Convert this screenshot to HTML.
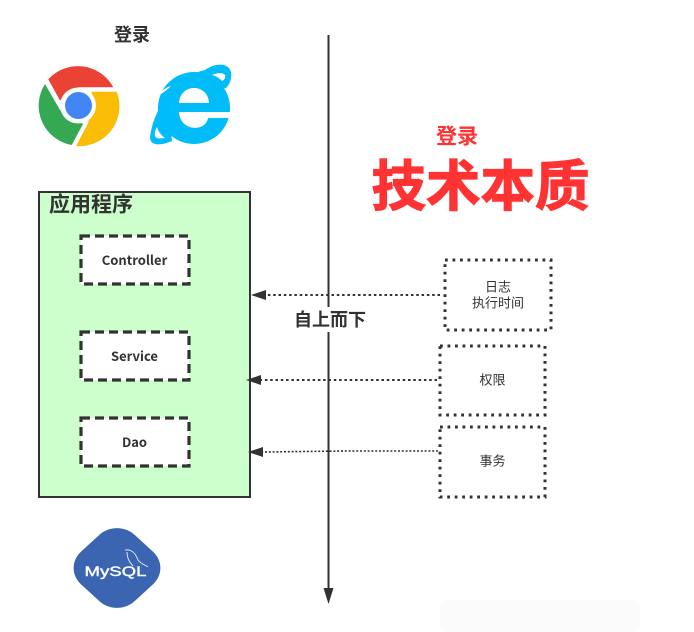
<!DOCTYPE html>
<html><head><meta charset="utf-8"><style>
html,body{margin:0;padding:0;background:#fff;width:694px;height:632px;overflow:hidden}
svg{display:block}
text{font-family:"Liberation Sans","Noto Sans CJK SC",sans-serif;text-anchor:middle;dominant-baseline:central;fill:#323232}
</style></head><body>
<svg width="694" height="632" viewBox="0 0 694 632">
<rect x="440" y="600" width="200" height="32" rx="6" fill="#fbfbfb"/>
<text x="132" y="35" font-size="18" font-weight="700">登录</text>
<!-- chrome -->
<path d="M48.300 79.300A40 40 0 0 1 113.300 87.300L78 87.300L60 100.500Z" fill="#ea4335"/>
<path d="M116.700 91.700A40 40 0 0 1 76 146L88 123.500L92 105L91.700 91.700Z" fill="#fbbc05"/>
<path d="M45 84A40 40 0 0 0 71.700 145L83 124L60 110Z" fill="#34a853"/>
<circle cx="78" cy="105.500" r="18" fill="#fff"/>
<circle cx="78.500" cy="105.500" r="13.500" fill="#4285f4"/>
<!-- IE -->
<g fill="#00bcf9">
<circle cx="194" cy="108" r="36"/>
<path d="M150 137C152 120 160 105 170 92C180 80 195 72 205 70C215 63 228 62 231 72C232 78 230 84 226 88L205 90L170 125L172 141C160 146 150 146 150 137Z"/>
</g>
<g fill="#fff">
<path d="M179 103C180 83 208 83 209 103Z"/>
<path d="M179 112H231V118H208C206 132 180 132 179 112Z"/>
<path d="M159 95C162 90 167 87 171 86C167 90 163 93 159 95Z"/>
<path d="M212 75C216 73 223 72 225 75C226 78 224 80 222 81C219 78 216 76 212 75Z"/>
<path d="M157 127C154 132 154 137 157 138C160 139 163 138 165 138C161 135 158 131 157 127Z"/>
</g>
<!-- red title -->
<text x="457" y="137" font-size="21" font-weight="700" style="fill:#ff3333">登录</text>
<text x="480.500" y="187" font-size="54.500" font-weight="700" stroke="#ff3333" stroke-width="1.200" style="fill:#ff3333">技术本质</text>
<!-- app box -->
<rect x="39" y="192" width="211" height="305" fill="#ccffcc" stroke="#323232" stroke-width="2"/>
<text x="91" y="205" font-size="21" font-weight="700">应用程序</text>
<g fill="#fff" stroke="#323232" stroke-width="3.200" stroke-dasharray="9 5">
<rect x="81" y="236" width="108" height="48"/>
<rect x="81" y="332" width="108" height="48"/>
<rect x="81" y="418" width="108" height="48"/>
</g>
<g font-size="13" font-weight="700">
<text x="134.500" y="259.500" style="font-family:'Noto Sans CJK SC',sans-serif">Controller</text>
<text x="134.500" y="355.500" style="font-family:'Noto Sans CJK SC',sans-serif">Service</text>
<text x="134.500" y="441.500" style="font-family:'Noto Sans CJK SC',sans-serif">Dao</text>
</g>
<!-- axis -->
<path d="M328.500 35V590" stroke="#323232" stroke-width="2" fill="none"/>
<path d="M323.500 588L333.500 588L328.500 604Z" fill="#323232"/>
<rect x="292" y="307" width="76" height="25" fill="#fff"/>
<text x="330" y="320" font-size="18" font-weight="700">自上而下</text>
<!-- dotted arrows -->
<g stroke="#323232" fill="none">
<path d="M440 295H264" stroke-width="2" stroke-dasharray="2.500 2.800"/>
<path d="M437 380H259" stroke-width="2" stroke-dasharray="2.500 2.800"/>
<path d="M438 451H345L262 452" stroke-width="1.600" stroke-dasharray="2 1.800"/>
</g>
<g fill="#323232">
<path d="M251 295L266 290L266 300Z"/>
<path d="M246 380L261 375L261 385Z"/>
<path d="M248 452L263 447L263 457Z"/>
</g>
<!-- dotted boxes -->
<g fill="#fff" stroke="#323232" stroke-width="3" stroke-dasharray="2.800 4.700">
<rect x="445" y="260" width="106" height="70"/>
<rect x="440" y="346" width="105" height="69"/>
<rect x="440" y="427" width="105" height="70"/>
</g>
<g font-size="13">
<text x="498" y="287">日志</text>
<text x="498" y="303">执行时间</text>
<text x="492.500" y="380">权限</text>
<text x="492.500" y="461">事务</text>
</g>
<!-- mysql -->
<g transform="translate(117,568) scale(1,.92) rotate(45)"><rect x="-38" y="-38" width="76" height="76" rx="25" fill="#3b65b0"/></g>
<text x="115.500" y="571" font-size="14" textLength="62" lengthAdjust="spacingAndGlyphs" stroke="#fff" stroke-width=".4" style="fill:#fff">MySQL</text>
<path d="M125 550C131 549 135 552 138 560C141 564 145 565 148 567M127 552C127 557 129 562 133 566" stroke="#dfe8f5" stroke-width="1" fill="none"/>
</svg>
</body></html>
